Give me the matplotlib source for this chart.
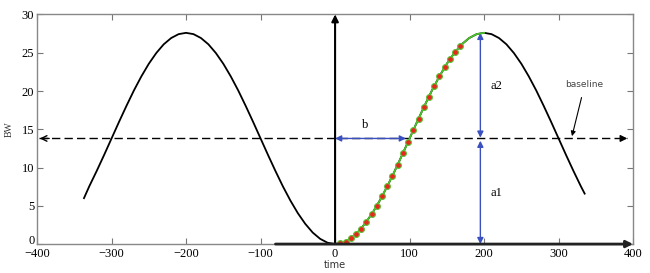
import matplotlib.pyplot as plt
from matplotlib.transforms import ScaledTranslation

# black reference curve (BW vs time)
curve_x = [-337, -330, -320, -310, -300, -290, -280, -270, -260, -250, -240, -230,
           -220, -210, -200, -190, -180, -170, -160, -150, -140, -130, -120, -110,
           -100, -90, -80, -70, -60, -50, -40, -30, -20, -10, 0, 10, 20, 30, 40, 50,
           60, 70, 80, 90, 100, 110, 120, 130, 140, 150, 160, 170, 180, 190, 200,
           210, 220, 230, 240, 250, 260, 270, 280, 290, 300, 310, 320, 330, 335]
curve_y = [6.0, 7.53, 9.54, 11.64, 13.80, 15.96, 18.06, 20.07, 21.91, 23.56, 24.96, 26.10,
           26.92, 27.43, 27.60, 27.43, 26.92, 26.10, 24.96, 23.56, 21.91, 20.07, 18.06, 15.96,
           13.80, 11.64, 9.54, 7.53, 5.69, 4.04, 2.64, 1.50, 0.68, 0.17, 0.0, 0.17, 0.68, 1.50,
           2.64, 4.04, 5.69, 7.53, 9.54, 11.64, 13.80, 15.96, 18.06, 20.07, 21.91, 23.56,
           24.96, 26.10, 26.92, 27.43, 27.60, 27.43, 26.92, 26.10, 24.96, 23.56, 21.91,
           20.07, 18.06, 15.96, 13.80, 11.64, 9.54, 7.53, 6.59]

# fitted green segment (0 .. 200)
fit_x = [0, 10, 20, 30, 40, 50, 60, 70, 80, 90, 100, 110, 120, 130, 140, 150, 160,
         170, 180, 190, 200]
fit_y = [0.0, 0.17, 0.68, 1.50, 2.64, 4.04, 5.69, 7.53, 9.54, 11.64, 13.80, 15.96,
         18.06, 20.07, 21.91, 23.56, 24.96, 26.10, 26.92, 27.43, 27.60]

# observed samples (red dots)
obs_x = [7, 14, 21, 28, 35, 42, 49, 56, 63, 70, 77, 84, 91, 98, 105, 112, 119, 126,
         133, 140, 147, 154, 161, 168]
obs_y = [0.08, 0.33, 0.74, 1.31, 2.03, 2.90, 3.89, 5.00, 6.22, 7.53, 8.92, 10.37,
         11.86, 13.37, 14.88, 16.39, 17.86, 19.28, 20.64, 21.91, 23.09, 24.15, 25.09, 25.89]

baseline = 13.8
peak_x, peak_y = 195, 27.6
b_end = 95

blue = "#3a4fc0"
serif = "Liberation Serif"

fig = plt.figure(figsize=(6.5, 2.73), dpi=100)
ax = fig.add_axes([0.057, 0.106, 0.917, 0.841])

ax.plot(curve_x, curve_y, color="black", lw=1.3, zorder=3)
ax.plot(fit_x, fit_y, color="#4cc22a", lw=1.3, zorder=4)
ax.plot(obs_x, obs_y, "o", ms=4.2, mfc="#e8261c", mec="#5cc23a", mew=0.8,
        ls="none", zorder=5)

# dashed baseline with arrows on both ends
ax.plot([-398, 392], [baseline, baseline], color="black", lw=1.0,
        ls=(0, (6, 3)), zorder=2)
ax.annotate("", xy=(-400, baseline), xytext=(-380, baseline),
            arrowprops=dict(arrowstyle="->", color="black", lw=1.0))
ax.annotate("", xy=(396, baseline), xytext=(380, baseline),
            arrowprops=dict(arrowstyle="-|>", color="black", lw=1.0,
                            mutation_scale=10))

# axis arrows
ax.annotate("", xy=(0, 30), xytext=(0, 0),
            arrowprops=dict(arrowstyle="-|>", color="black", lw=1.5,
                            mutation_scale=10, shrinkA=0, shrinkB=0), zorder=6)
ax.annotate("", xy=(400, 0), xytext=(-80, 0),
            arrowprops=dict(arrowstyle="-|>", color="#222222", lw=2.0,
                            mutation_scale=10, shrinkA=0, shrinkB=0),
            annotation_clip=False, zorder=6)

# b, a1, a2 dimension arrows
arr = dict(arrowstyle="<|-|>", color=blue, lw=1.0, mutation_scale=9,
           shrinkA=0, shrinkB=0)
ax.annotate("", xy=(0, baseline), xytext=(b_end, baseline), arrowprops=arr)
ax.annotate("", xy=(peak_x, peak_y), xytext=(peak_x, baseline + 0.1), arrowprops=arr)
ax.annotate("", xy=(peak_x, baseline - 0.3), xytext=(peak_x, 0), arrowprops=arr,
            annotation_clip=False)

ax.text(40, 15.6, "b", fontsize=9, family=serif, ha="center", va="center")
ax.text(208, 20.7, "a2", fontsize=9, family=serif, ha="left", va="center")
ax.text(208, 6.7, "a1", fontsize=9, family=serif, ha="left", va="center")

ax.annotate("baseline", xy=(318, baseline + 0.3), xytext=(335, 20.8),
            fontsize=6.5, color="#444444", ha="center", va="center",
            arrowprops=dict(arrowstyle="-|>", color="black", lw=0.8,
                            mutation_scale=7, shrinkA=4, shrinkB=0))

ax.set_xlim(-400, 400)
ax.set_ylim(0, 30)
ax.set_xticks(range(-400, 401, 100))
ax.set_yticks(range(0, 31, 5))
ax.tick_params(direction="in", top=True, right=True, length=4, width=0.8,
               color="#777777", labelsize=9, pad=2)
ax.tick_params(axis="x", pad=3)
for lab in ax.get_xticklabels() + ax.get_yticklabels():
    lab.set_family(serif)
# lift the y "0" so it sits just above the "-400"
y0 = ax.get_yticklabels()[0]
y0.set_transform(y0.get_transform() + ScaledTranslation(0, 3 / 72, fig.dpi_scale_trans))
for sp in ax.spines.values():
    sp.set_color("#888888")
    sp.set_linewidth(1.0)

ax.set_ylabel("BW", fontsize=7, family=serif, color="#333333", labelpad=6)
ax.set_xlabel("time", fontsize=7, color="#333333", labelpad=0)

fig.savefig("out.png", dpi=100)
